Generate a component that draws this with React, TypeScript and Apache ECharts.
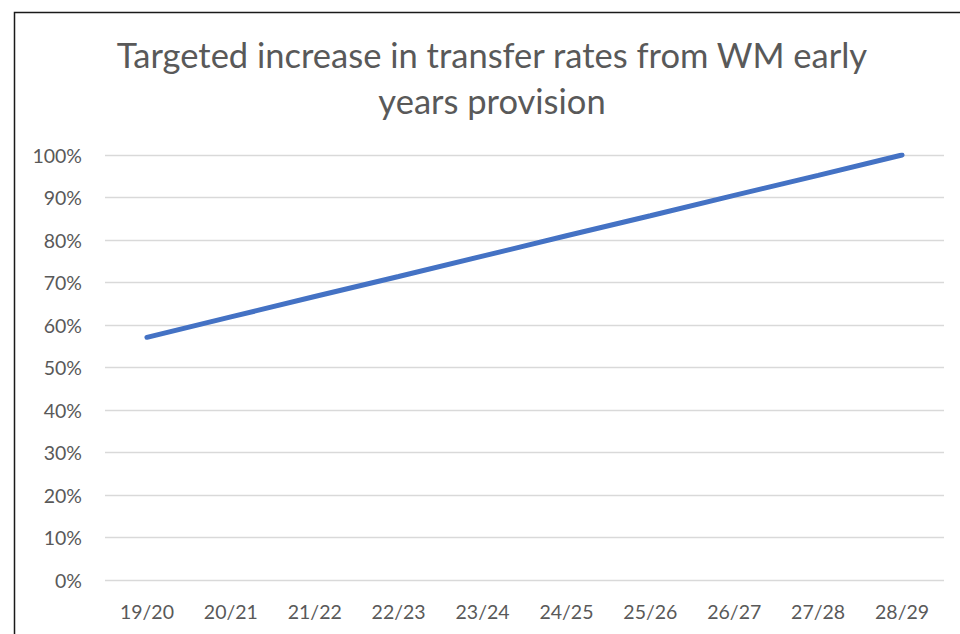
import React, { useEffect, useRef } from "react";
import * as echarts from "echarts";

const titleLines = ["Targeted increase in transfer rates from WM early", "years provision"];
const categories = ["19/20", "20/21", "21/22", "22/23", "23/24", "24/25", "25/26", "26/27", "27/28", "28/29"];
const transferRates = [57.1, 61.9, 66.7, 71.4, 76.2, 81.0, 85.7, 90.5, 95.2, 100];
const yTicks = { min: 0, max: 100, interval: 10 };

export default function App() {
  const ref = useRef<HTMLDivElement>(null);
  useEffect(() => {
    if (!ref.current) return;
    const chart = echarts.init(ref.current, undefined, { renderer: "svg" });
    const font = "Lato, 'Open Sans', sans-serif";
    chart.setOption({
      animation: false,
      backgroundColor: "#ffffff",
      graphic: [
        {
          type: "rect",
          left: 12,
          top: 10,
          shape: { x: 0, y: 0, width: 960, height: 640 },
          style: { fill: "none", stroke: "#1a1a1a", lineWidth: 1.5 },
          silent: true,
        },
        {
          type: "text",
          x: 492,
          y: 31,
          style: {
            text: titleLines.join("\n"),
            fontFamily: font,
            fontSize: 34.5,
            lineHeight: 46,
            fill: "#595959",
            textAlign: "center",
          },
        },
      ],
      grid: { left: 105, right: 16, top: 155, bottom: 54, containLabel: false },
      xAxis: {
        type: "category",
        data: categories,
        boundaryGap: true,
        axisLine: { show: false },
        axisTick: { show: false },
        axisLabel: { color: "#595959", fontSize: 19.5, fontFamily: font, margin: 21 },
      },
      yAxis: {
        type: "value",
        min: yTicks.min,
        max: yTicks.max,
        interval: yTicks.interval,
        axisLine: { show: false },
        axisTick: { show: false },
        splitLine: { lineStyle: { color: "#d9d9d9", width: 1.3 } },
        axisLabel: {
          color: "#595959",
          fontSize: 19.5,
          fontFamily: font,
          margin: 23,
          formatter: (v: number) => `${v}%`,
        },
      },
      series: [
        {
          type: "line",
          data: transferRates,
          symbol: "none",
          lineStyle: { color: "#4472C4", width: 5, cap: "round" },
        },
      ],
    });
    return () => chart.dispose();
  }, []);
  return <div ref={ref} style={{ position: "fixed", left: 0, top: 0, width: 960, height: 634 }} />;
}
